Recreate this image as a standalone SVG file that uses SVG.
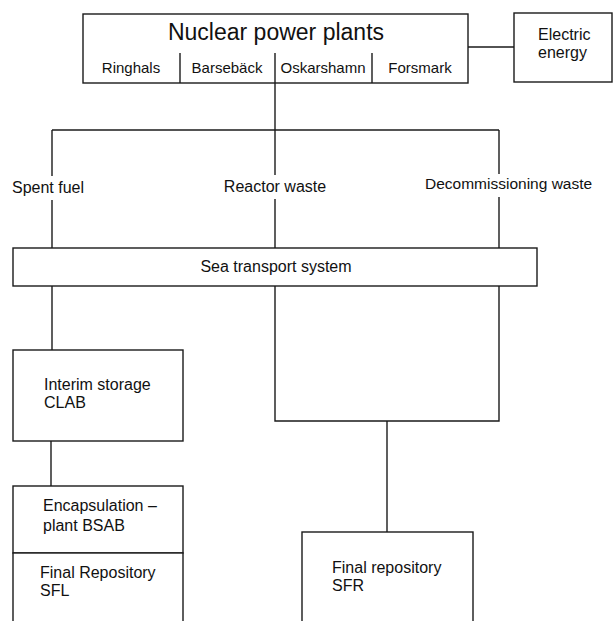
<svg xmlns="http://www.w3.org/2000/svg" width="614" height="621" viewBox="0 0 614 621">
<style>
  .box{fill:#fff;stroke:#1a1a1a;stroke-width:1.4}
  .ln{fill:none;stroke:#1a1a1a;stroke-width:1.4}
  text{font-family:"Liberation Sans",Arial,sans-serif;fill:#111}
  .t16{font-size:16px}
  .t15{font-size:15px}
  .mid{text-anchor:middle}
</style>
<rect width="614" height="621" fill="#fff"/>
<g id="connectors">
  <line class="ln" x1="468" y1="47" x2="514" y2="47"/>
  <line class="ln" x1="275" y1="83" x2="275" y2="175"/>
  <line class="ln" x1="275" y1="199" x2="275" y2="248"/>
  <line class="ln" x1="52" y1="130" x2="499" y2="130"/>
  <line class="ln" x1="52" y1="130" x2="52" y2="176"/>
  <line class="ln" x1="52" y1="200" x2="52" y2="248"/>
  <line class="ln" x1="499" y1="130" x2="499" y2="174"/>
  <line class="ln" x1="499" y1="197" x2="499" y2="248"/>
  <line class="ln" x1="52" y1="286" x2="52" y2="350"/>
  <polyline class="ln" points="275,286 275,421 499,421 499,286"/>
  <line class="ln" x1="387" y1="421" x2="387" y2="532"/>
  <line class="ln" x1="51" y1="441" x2="51" y2="486"/>
</g>
<g id="nuclear">
  <rect class="box" x="83" y="14" width="385" height="69"/>
  <line class="ln" x1="180" y1="53" x2="180" y2="83"/>
  <line class="ln" x1="275" y1="53" x2="275" y2="83"/>
  <line class="ln" x1="372" y1="53" x2="372" y2="83"/>
  <text x="276" y="40" class="mid" font-size="23">Nuclear power plants</text>
  <text x="131" y="73" class="mid t15">Ringhals</text>
  <text x="227" y="73" class="mid t15">Barsebäck</text>
  <text x="323" y="73" class="mid t15">Oskarshamn</text>
  <text x="420" y="73" class="mid t15">Forsmark</text>
</g>
<g id="electric">
  <rect class="box" x="514" y="13" width="98" height="69"/>
  <text x="538" y="40" class="t16">Electric</text>
  <text x="538" y="58" class="t16">energy</text>
</g>
<g id="labels">
  <text x="12" y="193" class="t16">Spent fuel</text>
  <text x="275" y="192" class="mid t16">Reactor waste</text>
  <text x="425" y="189" font-size="15.5">Decommissioning waste</text>
</g>
<g id="sea">
  <rect class="box" x="13" y="248" width="524" height="38"/>
  <text x="276" y="272" class="mid t16">Sea transport system</text>
</g>
<g id="interim">
  <rect class="box" x="13" y="350" width="170" height="91"/>
  <text x="44" y="390" class="t16">Interim storage</text>
  <text x="44" y="408" class="t16">CLAB</text>
</g>
<g id="encapsulation">
  <rect class="box" x="13" y="486" width="170" height="67"/>
  <text x="43" y="511" class="t16">Encapsulation –</text>
  <text x="43" y="531" class="t16">plant BSAB</text>
</g>
<g id="sfl">
  <rect class="box" x="13" y="553" width="170" height="80"/>
  <text x="40" y="578" class="t16">Final Repository</text>
  <text x="40" y="596" class="t16">SFL</text>
</g>
<g id="sfr">
  <rect class="box" x="302" y="532" width="171" height="100"/>
  <text x="332" y="573" class="t16">Final repository</text>
  <text x="332" y="591" class="t16">SFR</text>
</g>
</svg>
